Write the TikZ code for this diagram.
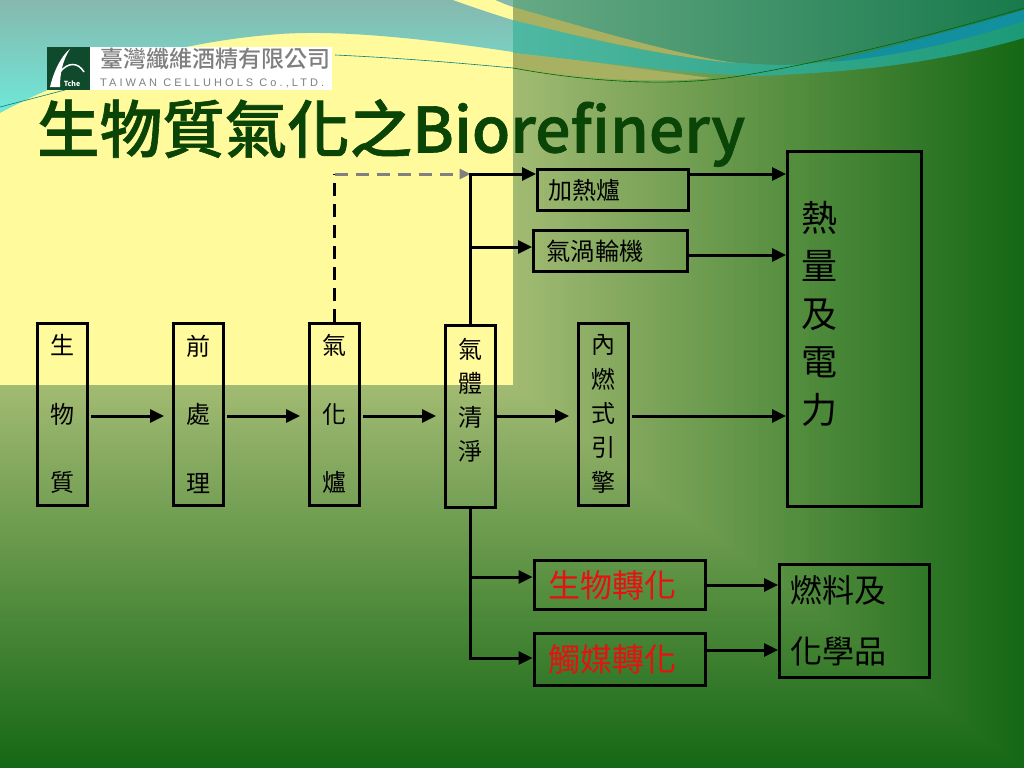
\documentclass[tikz,border=0pt]{standalone}
\usepackage{fontspec}
\setmainfont{Noto Sans CJK TC}
\newfontfamily\latinlogo[LetterSpace=28]{Liberation Sans}
\newfontfamily\titlefont{Noto Sans CJK TC Medium}
\newfontfamily\headfont[FakeBold=1]{Noto Sans CJK TC Medium}
\usetikzlibrary{positioning,arrows.meta,calc}

\definecolor{gradlight}{HTML}{A3BB73}
\definecolor{graddark}{HTML}{156815}
\definecolor{panelyellow}{HTML}{FFFA9C}
\definecolor{titlegreen}{HTML}{0B4407}
\definecolor{logogreen}{HTML}{0F4A2C}
\definecolor{logogray}{HTML}{7F7F7F}
\definecolor{wavetan}{HTML}{A8B062}
\definecolor{wavered}{HTML}{E81010}
\definecolor{skytop}{HTML}{86B8AE}
\definecolor{skylow}{HTML}{6EE8D8}
\definecolor{sealeft}{HTML}{66A985}
\definecolor{searight}{HTML}{187A4C}
\definecolor{bandleft}{HTML}{4FB8A2}
\definecolor{bandright}{HTML}{1C9A78}
\definecolor{bandblue}{HTML}{1290A0}

\begin{document}
\begin{tikzpicture}[
  x=1pt, y=-1pt,
  procbox/.style={draw, line width=3pt, inner sep=0pt, align=center},
  tallbox/.style={procbox, minimum width=50pt, minimum height=182pt},
  widebox/.style={draw, line width=3pt, inner xsep=11pt, inner ysep=0pt, align=left},
  flowarr/.style={line width=3pt, -{Triangle[length=14pt,width=13pt]}},
  dashline/.style={line width=3pt, dash pattern=on 13pt off 8pt}
]
\useasboundingbox (0,0) rectangle (1024,768);

% background
\foreach \s in {100,99,...,1} {
  \pgfmathsetmacro{\mix}{100-\s}
  \fill[gradlight!\mix!graddark] (0,0) rectangle ({513+5.11*\s},{385+3.83*\s});
}
\fill[panelyellow] (0,0) rectangle (513,385);
\shade[top color=skytop, bottom color=skylow] (0,0) -- (513,0) -- (513,52)
  .. controls (420,38) and (340,30) .. (280,34) .. controls (170,42) and (70,75) .. (0,113) -- cycle;
\fill[panelyellow] (453,0) -- (495,0) .. controls (500,2) and (506,5) .. (513,7) -- (513,20) .. controls (490,13) and (470,6) .. (453,0) -- cycle;
\draw[teal, line width=0.6pt] (335,55) .. controls (400,58) and (460,63) .. (513,68);
\draw[teal, line width=0.6pt] (0,107) -- (65,90);

% waves
\shade[left color=sealeft, right color=searight] (513,0) -- (1024,0) -- (1024,12)
  .. controls (950,35) and (850,65) .. (780,65) .. controls (700,65) and (620,40) .. (513,7) -- cycle;
\shade[left color=bandleft, right color=bandright] (513,20) .. controls (600,42) and (680,62) .. (780,65)
  .. controls (850,65) and (950,35) .. (1024,12) -- (1024,38)
  .. controls (930,65) and (850,72) .. (760,76) .. controls (680,74) and (600,62) .. (513,53) -- cycle;
\fill[bandblue] (828,62) .. controls (890,48) and (960,28) .. (1024,10) -- (1024,21) .. controls (960,42) and (890,58) .. (828,62) -- cycle;
\fill[wavetan] (513,7) .. controls (600,32) and (680,55) .. (735,63) .. controls (660,56) and (590,38) .. (513,20) -- cycle;
\fill[wavetan] (513,53) .. controls (600,62) and (660,72) .. (712,78) .. controls (650,84) and (580,78) .. (513,68) -- cycle;
\draw[green!40!black, line width=0.6pt] (513,68) .. controls (600,84) and (680,86) .. (740,76)
  .. controls (800,66) and (900,45) .. (1024,8);

% logo
\fill[white] (90,47) rectangle (332,90);
\fill[logogreen] (47,47) rectangle (90,90);
\fill[white] (50,87) .. controls (54,70) and (62,55) .. (70,49) .. controls (63,60) and (60,72) .. (60,87) -- cycle;
\draw[white, line width=1.5pt] (60,72) .. controls (68,62) and (78,62) .. (84,72);
\node[text=white, font=\fontsize{7}{7}\selectfont\bfseries, inner sep=0pt] (logotag) at (72,84) {Tche};
\node[anchor=west, text=logogray, font=\fontsize{23}{23}\selectfont\titlefont, inner sep=0pt] (logoname) at (100,59) {臺灣纖維酒精有限公司};
\node[anchor=west, text=logogray, font=\fontsize{11}{11}\selectfont\latinlogo, inner sep=0pt] (logolatin) at (100,83) {TAIWAN CELLUHOLS Co.,LTD.};

% title
\node[anchor=west, inner sep=0pt, text=titlegreen, font=\fontsize{62.5}{62}\selectfont\headfont] (title) at (37,133) {生物質氣化之Biorefinery};

% main row
\node[tallbox, font=\fontsize{24}{68.5}\selectfont] (biomass) at (62.5,414) {生\\物\\質};
\node[tallbox, font=\fontsize{24}{68.5}\selectfont, right=83pt of biomass] (pretreat) {前\\處\\理};
\node[tallbox, font=\fontsize{24}{68.5}\selectfont, right=83pt of pretreat] (gasifier) {氣\\化\\爐};
\node[tallbox, font=\fontsize{24}{34}\selectfont, right=83pt of gasifier, yshift=-2.5pt] (cleanup) {氣\\體\\清\\淨\\~};
\node[tallbox, font=\fontsize{24}{34.4}\selectfont, right=80pt of cleanup, yshift=2.5pt] (engine) {內\\燃\\式\\引\\擎};

% upper branch
\node[widebox, font=\fontsize{24}{24}\selectfont, text width=129pt, minimum height=41pt] (burner) at (613,190) {加熱爐};
\node[widebox, font=\fontsize{24.3}{24}\selectfont, text width=128pt, minimum height=41pt, inner xsep=13pt] (turbine) at (610.5,251) {氣渦輪機};
\node[widebox, font=\fontsize{36}{48}\selectfont, text width=106pt, minimum height=355pt, inner xsep=14pt] (power) at (854.5,329) {熱\\量\\及\\電\\力\\[-14pt]~};

% lower branch
\node[widebox, font=\fontsize{32}{32}\selectfont, text=wavered, text width=143pt, minimum height=49pt, inner xsep=14pt] (biocon) at (619.5,585) {生物轉化};
\node[widebox, font=\fontsize{32}{32}\selectfont, text=wavered, text width=143pt, minimum height=52pt, inner xsep=14pt] (catcon) at (619.5,659.5) {觸媒轉化};
\node[widebox, font=\fontsize{32}{61}\selectfont, text width=128pt, minimum height=113pt, inner xsep=11pt] (fuels) at (854.5,621) {燃料及\\化學品};

% connectors
\coordinate (dashturn) at (gasifier.north |- 0,174);
\coordinate (splitpt) at (cleanup.north |- 0,174);
\draw[dashline] (gasifier.north) -- (dashturn);
\draw[dashline, gray, -{Triangle[length=11pt,width=10pt]}] (dashturn) -- (splitpt);

\draw[flowarr, shorten <=2pt, shorten >=8pt] ([yshift=-2pt]biomass.east) -- ([yshift=-2pt]pretreat.west);
\draw[flowarr, shorten <=2pt, shorten >=8pt] ([yshift=-2pt]pretreat.east) -- ([yshift=-2pt]gasifier.west);
\draw[flowarr, shorten <=2pt, shorten >=8pt] ([yshift=-2pt]gasifier.east) -- ([yshift=.5pt]cleanup.west);
\draw[flowarr, shorten >=8pt] ([yshift=.5pt]cleanup.east) -- ([yshift=-2pt]engine.west);
\draw[flowarr, shorten <=2pt] ([yshift=-2pt]engine.east) -- ([yshift=-2pt]engine.east -| power.west);

\draw[flowarr] (cleanup.north) |- ([yshift=16pt]burner.west);
\draw[flowarr] (cleanup.north) |- ([yshift=4pt]turbine.west);
\draw[flowarr] ([yshift=16pt]burner.east) -- ([yshift=16pt]burner.east -| power.west);
\draw[flowarr] ([yshift=-4pt]turbine.east) -- ([yshift=-4pt]turbine.east -| power.west);

\draw[flowarr] (cleanup.south) |- ([yshift=8pt]biocon.west);
\draw[flowarr] (cleanup.south) |- ([yshift=1.5pt]catcon.west);
\draw[flowarr] (biocon.east) -- (biocon.east -| fuels.west);
\draw[flowarr] ([yshift=9.5pt]catcon.east) -- ([yshift=9.5pt]catcon.east -| fuels.west);
\end{tikzpicture}
\end{document}
